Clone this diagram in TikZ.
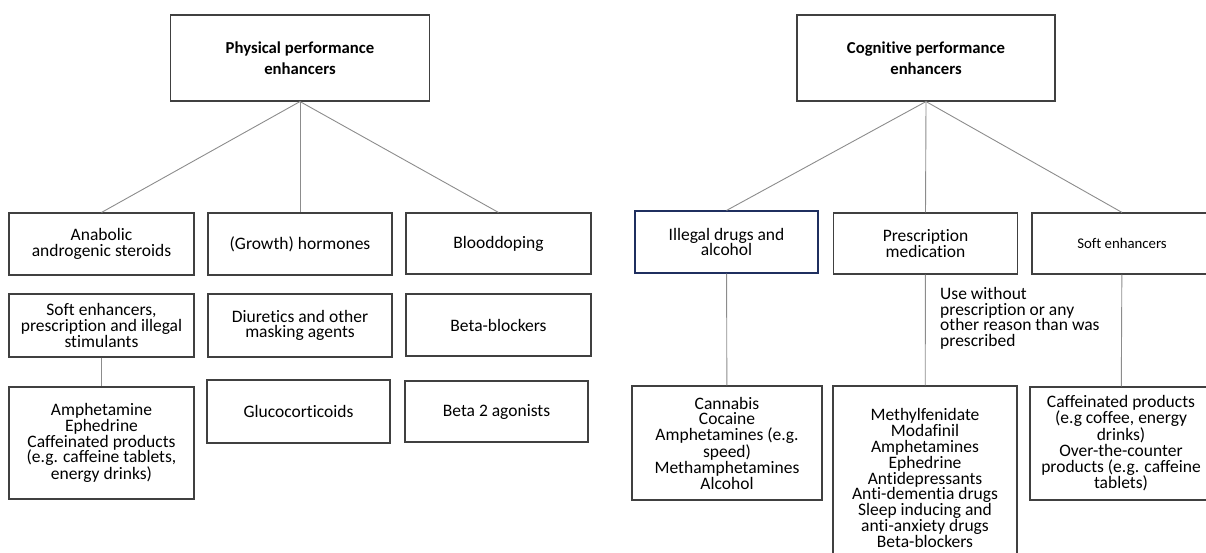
\documentclass[tikz,border=0pt]{standalone}
\usepackage{fontspec}
\setmainfont{Carlito}[Ligatures=NoCommon]
\usetikzlibrary{shadows}
\definecolor{boxline}{HTML}{404040}
\definecolor{edgeline}{HTML}{8C8C8C}
\definecolor{navyline}{HTML}{1F2F5F}
\begin{document}
\begin{tikzpicture}[x=1pt,y=-1pt,
    box/.style={draw=boxline,line width=1.1pt,rectangle,inner sep=0pt,align=center,
      fill=white,font=\fontsize{17.5}{15.8}\selectfont},
    head/.style={box,font=\fontsize{16.7}{21}\selectfont\bfseries},
    edge/.style={draw=edgeline,line width=0.9pt}]
    \useasboundingbox (0,0) rectangle (1206,553);
    % Nodes
    \node[head,minimum width=259,minimum height=86] (phys) at (300,58) {Physical performance\\enhancers};
    \node[head,minimum width=258,minimum height=86] (cogn) at (926,58) {Cognitive performance\\enhancers};

    \node[box,minimum width=185,minimum height=62] (anab) at (101.5,244) {Anabolic\\androgenic steroids};
    \node[box,minimum width=184,minimum height=62] (growth) at (300,244) {(Growth) hormones};
    \node[box,minimum width=185,minimum height=61] (blood) at (498.5,243.5) {Blooddoping};

    \node[box,minimum width=185,minimum height=63] (softphys) at (101.5,325.5) {Soft enhancers,\\prescription and illegal\\stimulants};
    \node[box,minimum width=184,minimum height=63] (diur) at (300,325.5) {Diuretics and other\\masking agents};
    \node[box,minimum width=185,minimum height=62] (betabl) at (498.5,325) {Beta-blockers};

    \node[box,minimum width=185,minimum height=112] (amph) at (101.5,443) {Amphetamine\\Ephedrine\\Caffeinated products\\(e.g. caffeine tablets,\\energy drinks)};
    \node[box,minimum width=183,minimum height=63] (gluco) at (298.5,411.5) {Glucocorticoids};
    \node[box,minimum width=183,minimum height=61] (beta2) at (496.5,411.5) {Beta 2 agonists};

    \node[box,draw=navyline,minimum width=183,minimum height=62,
      drop shadow={shadow xshift=1.2pt,shadow yshift=-1.2pt,fill=gray!70}] (illegal) at (726.5,242) {Illegal drugs and\\alcohol};
    \node[box,minimum width=184,minimum height=61] (presc) at (925.5,243.5) {Prescription\\medication};
    \node[box,minimum width=180,minimum height=61,font=\fontsize{14.8}{16}\selectfont] (softcog) at (1122,243.5) {Soft enhancers};

    \node[box,minimum width=190,minimum height=114] (cannabis) at (727,443) {Cannabis\\Cocaine\\Amphetamines (e.g.\\speed)\\Methamphetamines\\Alcohol};
    \node[box,minimum width=184,minimum height=184] (prescdrugs) at (925,478) {Methylfenidate\\Modafinil\\Amphetamines\\Ephedrine\\Antidepressants\\Anti-dementia drugs\\Sleep inducing and\\anti-anxiety drugs\\Beta-blockers};
    \node[box,minimum width=182,minimum height=113] (caff) at (1121,443.5) {Caffeinated products\\(e.g coffee, energy\\drinks)\\Over-the-counter\\products (e.g. caffeine\\tablets)};

    \node[anchor=north west,inner sep=0pt,align=left,font=\fontsize{17.5}{15.8}\selectfont] (misuse) at (940,287) {Use without\\prescription or any\\other reason than was\\prescribed};

    % Edges
    \draw[edge] (phys.south) -- (anab.north);
    \draw[edge] (phys.south) -- (growth.north);
    \draw[edge] (phys.south) -- (blood.north);
    \draw[edge] (softphys) -- (amph);
    \draw[edge] (cogn.south) -- (illegal.north);
    \draw[edge] (cogn.south) -- (presc.north);
    \draw[edge] (cogn.south) -- (softcog.north);
    \draw[edge] (illegal) -- (cannabis);
    \draw[edge] (presc) -- (prescdrugs);
    \draw[edge] (softcog) -- (caff);
\end{tikzpicture}
\end{document}
